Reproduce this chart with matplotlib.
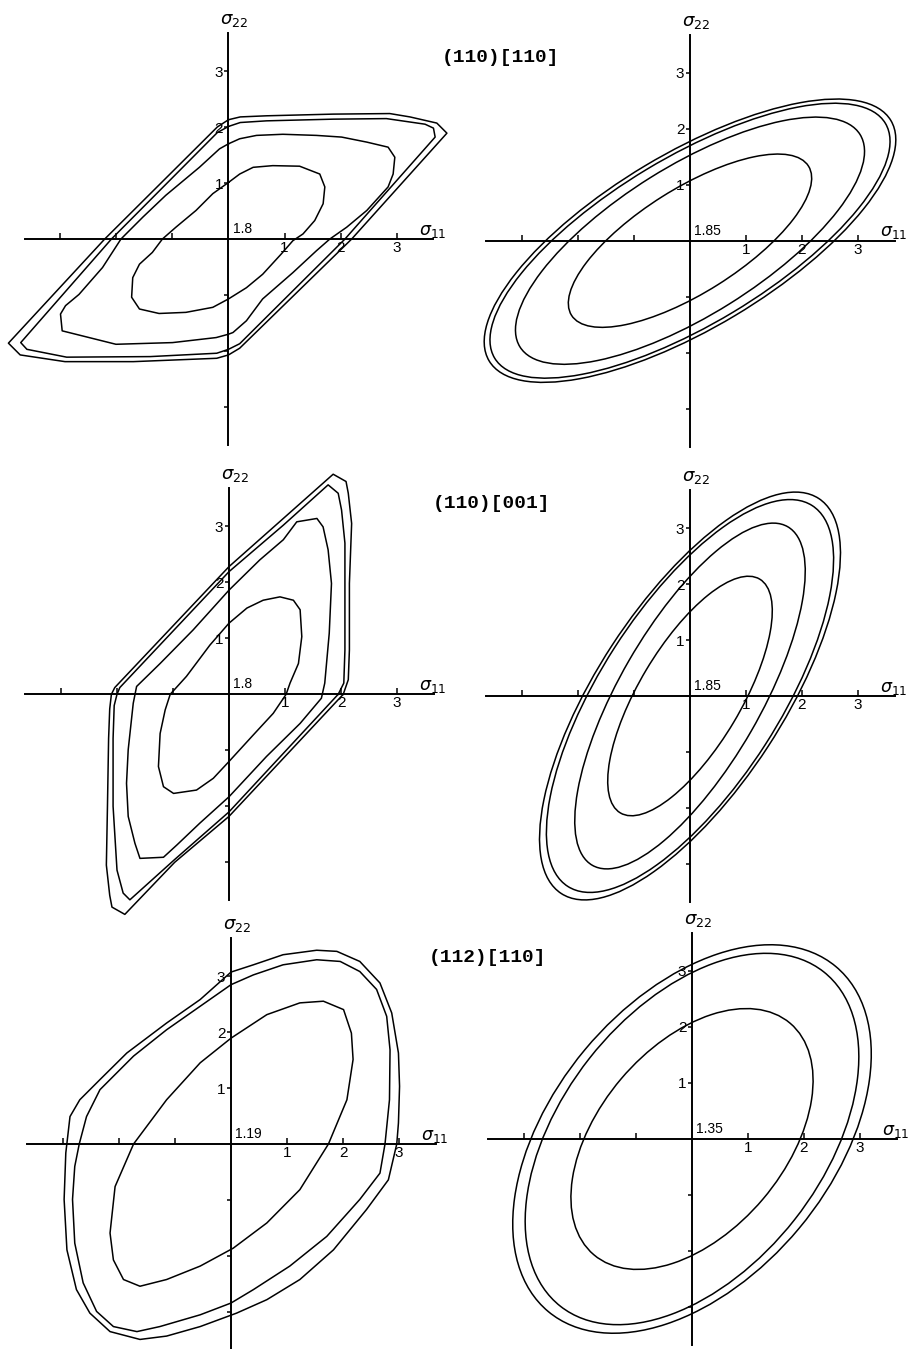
import numpy as np
import matplotlib.pyplot as plt
from matplotlib.patches import Ellipse

plt.rcParams['font.family'] = ['Liberation Sans', 'DejaVu Sans']
plt.rcParams['mathtext.fontset'] = 'dejavusans'

# ---- data -------------------------------------------------------------
orientations = ['(110)[110]', '(110)[001]', '(112)[110]']
origin_values = [['1.8', '1.85'], ['1.8', '1.85'], ['1.19', '1.35']]
tick_pos = [-3, -2, -1, 1, 2, 3]
tick_text = ['', '', '', '1', '2', '3']

# left column: computed yield loci, vertices (sigma11, sigma22)
loc_110_110 = [
    [(0, 1.01), (0.20, 1.16), (0.44, 1.28), (0.79, 1.31), (1.27, 1.30), (1.63, 1.16),
     (1.72, 0.93), (1.69, 0.63), (1.54, 0.33), (1.33, 0.09), (1.15, -0.03), (0.94, -0.27),
     (0.61, -0.63), (0.32, -0.87), (0, -1.07), (-0.28, -1.22), (-0.76, -1.31), (-1.24, -1.33),
     (-1.59, -1.25), (-1.73, -1.04), (-1.71, -0.69), (-1.59, -0.45), (-1.36, -0.24),
     (-1.18, 0), (-0.94, 0.21), (-0.58, 0.51), (-0.28, 0.81)],
    [(0, 1.70), (0.20, 1.79), (0.50, 1.85), (0.97, 1.87), (1.57, 1.85), (2.02, 1.82),
     (2.47, 1.73), (2.85, 1.64), (2.97, 1.46), (2.94, 1.16), (2.85, 0.93), (2.47, 0.51),
     (2.11, 0.21), (1.81, 0), (1.57, -0.21), (1.15, -0.60), (0.61, -1.07), (0.32, -1.46),
     (0.08, -1.67), (0, -1.70), (-0.22, -1.76), (-1.00, -1.85), (-2.01, -1.88),
     (-2.73, -1.70), (-2.97, -1.64), (-3.00, -1.34), (-2.91, -1.19), (-2.67, -0.99),
     (-2.25, -0.51), (-1.92, 0), (-1.53, 0.39), (-1.12, 0.78), (-0.52, 1.28), (-0.16, 1.61)],
    [(0, 2.01), (0.21, 2.08), (0.68, 2.11), (1.87, 2.14), (2.82, 2.15), (3.51, 2.05),
     (3.66, 1.98), (3.69, 1.82), (2.08, 0), (0.20, -1.87), (0, -1.97), (-0.21, -2.04),
     (-1.40, -2.10), (-2.89, -2.11), (-3.60, -1.97), (-3.71, -1.85), (-2.09, 0),
     (-0.20, 1.90)],
    [(0, 2.13), (0.21, 2.18), (0.68, 2.20), (1.87, 2.23), (2.88, 2.24), (3.24, 2.18),
     (3.72, 2.07), (3.90, 1.89), (2.20, 0), (0.20, -1.95), (0, -2.07), (-0.21, -2.13),
     (-1.70, -2.19), (-2.92, -2.19), (-3.72, -2.07), (-3.93, -1.86), (-2.21, 0),
     (-0.20, 2.00)],
]

loc_110_001 = [
    [(0, 1.27), (0.32, 1.54), (0.61, 1.68), (0.91, 1.74), (1.15, 1.68), (1.27, 1.51),
     (1.30, 1.03), (1.24, 0.55), (1.09, 0.20), (1.02, 0), (0.79, -0.34), (0.43, -0.73),
     (0, -1.20), (-0.28, -1.50), (-0.58, -1.71), (-0.99, -1.77), (-1.17, -1.65),
     (-1.26, -1.29), (-1.23, -0.70), (-1.14, -0.28), (-1.05, 0), (-0.76, 0.32), (-0.34, 0.88)],
    [(0, 1.86), (0.55, 2.40), (0.97, 2.76), (1.21, 3.08), (1.57, 3.14), (1.68, 2.99),
     (1.77, 2.58), (1.83, 1.98), (1.79, 1.09), (1.71, 0.20), (1.65, -0.07), (1.27, -0.52),
     (0.67, -1.11), (0, -1.83), (-0.52, -2.30), (-0.93, -2.69), (-1.17, -2.91),
     (-1.59, -2.93), (-1.68, -2.66), (-1.80, -2.18), (-1.83, -1.59), (-1.80, -0.99),
     (-1.71, -0.16), (-1.65, 0.14), (-1.23, 0.55), (-0.64, 1.15)],
    [(1.95, 0), (2.05, 0.20), (2.07, 0.79), (2.07, 2.00), (2.07, 2.70), (2.01, 3.29),
     (1.95, 3.59), (1.77, 3.74), (0.97, 3.02), (0, 2.19), (-1.95, 0.12), (-2.00, 0),
     (-2.05, -0.20), (-2.07, -0.79), (-2.07, -2.00), (-2.00, -3.14), (-1.89, -3.55),
     (-1.77, -3.67), (-0.97, -2.95), (0, -2.10)],
    [(2.04, 0), (2.13, 0.26), (2.15, 0.79), (2.15, 1.98), (2.19, 3.05), (2.13, 3.59),
     (2.09, 3.80), (1.86, 3.93), (0.97, 3.14), (0, 2.28), (-2.04, 0.12), (-2.10, 0),
     (-2.13, -0.26), (-2.15, -0.79), (-2.17, -1.98), (-2.19, -3.05), (-2.13, -3.59),
     (-2.09, -3.80), (-1.86, -3.93), (-0.97, -3.00), (0, -2.18)],
]

loc_112_110 = [
    [(0, 1.89), (0.64, 2.31), (1.23, 2.52), (1.65, 2.55), (2.01, 2.40), (2.15, 1.98),
     (2.18, 1.51), (2.07, 0.79), (1.74, 0), (1.23, -0.815), (0.64, -1.41), (0.04, -1.86),
     (-0.55, -2.18), (-1.15, -2.42), (-1.625, -2.54), (-1.92, -2.42), (-2.10, -2.07),
     (-2.16, -1.59), (-2.07, -0.76), (-1.74, 0), (-1.15, 0.79), (-0.55, 1.45)],
    [(0, 2.845), (0.40, 3.02), (0.93, 3.20), (1.53, 3.29), (1.95, 3.26), (2.30, 3.08),
     (2.60, 2.76), (2.78, 2.28), (2.84, 1.68), (2.83, 0.79), (2.75, 0), (2.66, -0.52),
     (2.30, -0.99), (1.71, -1.65), (1.05, -2.18), (0.40, -2.60), (0, -2.84), (-0.55, -3.05),
     (-1.27, -3.26), (-1.68, -3.35), (-2.10, -3.26), (-2.40, -2.99), (-2.64, -2.48),
     (-2.79, -1.77), (-2.83, -0.99), (-2.79, -0.40), (-2.71, 0), (-2.58, 0.49),
     (-2.34, 0.97), (-1.74, 1.57), (-1.15, 2.04), (-0.55, 2.46)],
    [(0, 3.07), (0.40, 3.20), (0.93, 3.38), (1.53, 3.46), (1.89, 3.44), (2.30, 3.26),
     (2.66, 2.875), (2.87, 2.34), (2.99, 1.625), (3.01, 1.03), (2.99, 0.375), (2.96, 0),
     (2.81, -0.64), (2.42, -1.17), (1.83, -1.89), (1.23, -2.42), (0.64, -2.78),
     (0.10, -3.02), (-0.55, -3.26), (-1.15, -3.43), (-1.625, -3.49), (-2.16, -3.35),
     (-2.52, -3.02), (-2.76, -2.60), (-2.93, -1.89), (-2.98, -0.99), (-2.95, -0.16),
     (-2.875, 0.49), (-2.70, 0.79), (-2.34, 1.15), (-1.86, 1.625), (-1.15, 2.16),
     (-0.55, 2.58)],
]

# right column: Hill ellipses -> semi-major, semi-minor, tilt of major axis (deg)
hill_110_110_a = [2.50, 3.58, 4.07, 4.18]
hill_110_110_b = [0.93, 1.33, 1.49, 1.56]
hill_110_110_tilt = [32.2, 32.0, 31.0, 30.9]

hill_110_001_a = [2.43, 3.49, 4.04, 4.21]
hill_110_001_b = [0.91, 1.26, 1.60, 1.66]
hill_110_001_tilt = [59.2, 60.0, 57.3, 56.9]

hill_112_110_a = [2.71, 3.80, 4.01]
hill_112_110_b = [1.66, 2.33, 2.49]
hill_112_110_tilt = [49.7, 51.8, 50.2]

# ---- layout -----------------------------------------------------------
W, H = 911, 1349
PX = 56.0      # pixels per stress unit
LIM = 4.4

fig = plt.figure(figsize=(W / 100, H / 100), dpi=100)

# axis crossing point of every panel (pixels from top-left)
origins = [[(228.5, 239), (690, 240.7)],
           [(229, 694.3), (690, 696)],
           [(231, 1144), (692, 1139)]]
title_pos = [(500, 58), (492, 504), (487, 958)]


def panel(ox, oy, label):
    ax = fig.add_axes([(ox - LIM * PX) / W, (H - oy - LIM * PX) / H,
                       2 * LIM * PX / W, 2 * LIM * PX / H])
    ax.set_xlim(-LIM, LIM)
    ax.set_ylim(-LIM, LIM)
    ax.patch.set_visible(False)
    ax.spines['top'].set_visible(False)
    ax.spines['right'].set_visible(False)
    ax.spines['left'].set_position(('data', 0))
    ax.spines['bottom'].set_position(('data', 0))
    ax.spines['bottom'].set_bounds(-3.64, 3.66)
    ax.spines['left'].set_bounds(-3.68, 3.68)
    for s in ('left', 'bottom'):
        ax.spines[s].set_linewidth(1.4)
    ax.set_xticks(tick_pos)
    ax.set_xticklabels(tick_text)
    ax.set_yticks(tick_pos)
    ax.set_yticklabels(tick_text)
    ax.tick_params(axis='x', direction='in', length=4, width=1.1, pad=1.5, labelsize=11)
    ax.tick_params(axis='y', direction='out', length=3, width=1.1, pad=1, labelsize=11)
    ax.text(-0.15, 3.9, r'$\sigma_{22}$', fontsize=13, ha='left', va='center')
    ax.text(3.4, 0.14, r'$\sigma_{11}$', fontsize=12.5, ha='left', va='center')
    ax.text(0.08, 0.05, label, fontsize=10, ha='left', va='bottom')
    return ax


def draw_locus(ax, pts):
    xy = np.array(pts + [pts[0]])
    ax.plot(xy[:, 0], xy[:, 1], color='black', lw=1.1, clip_on=False)


def draw_hill(ax, a, b, tilt):
    for ai, bi, ti in zip(a, b, tilt):
        ax.add_patch(Ellipse((0, 0), 2 * ai, 2 * bi, angle=ti, fill=False,
                             edgecolor='black', lw=1.1, clip_on=False))


left_loci = [loc_110_110, loc_110_001, loc_112_110]
right_hill = [(hill_110_110_a, hill_110_110_b, hill_110_110_tilt),
              (hill_110_001_a, hill_110_001_b, hill_110_001_tilt),
              (hill_112_110_a, hill_112_110_b, hill_112_110_tilt)]

for row in range(3):
    (lx, ly), (rx, ry) = origins[row]
    axl = panel(lx, ly, origin_values[row][0])
    for pts in left_loci[row]:
        draw_locus(axl, pts)
    axr = panel(rx, ry, origin_values[row][1])
    draw_hill(axr, *right_hill[row])
    tx, ty = title_pos[row]
    fig.text(tx / W, 1 - ty / H, orientations[row], family=['Liberation Mono', 'DejaVu Sans Mono'],
             fontweight='bold', fontsize=14, ha='center', va='center')

fig.savefig('out.png', dpi=100)
